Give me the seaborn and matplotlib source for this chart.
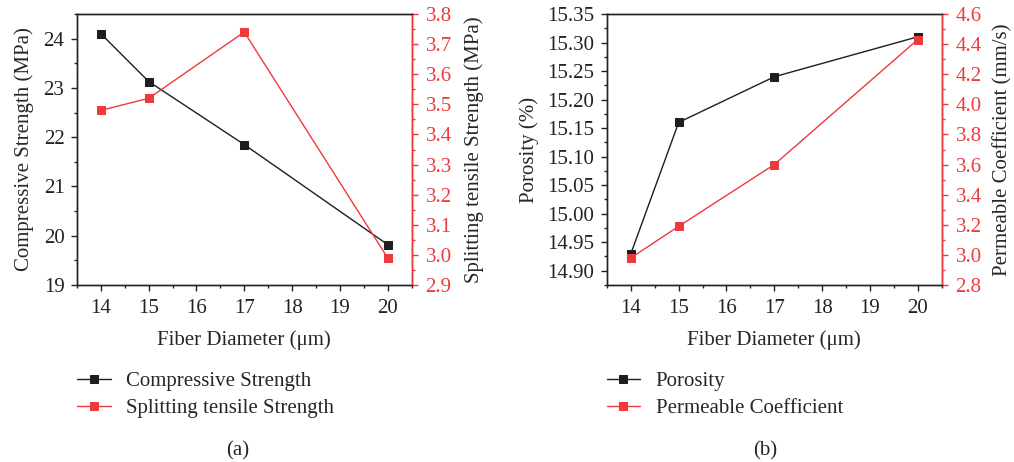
import matplotlib
matplotlib.use("Agg")
import matplotlib.pyplot as plt
import seaborn as sns
from matplotlib.ticker import MultipleLocator, FormatStrFormatter

# data
fiber_diameter = [14, 15, 17, 20]
compressive_strength = [24.10, 23.13, 21.85, 19.82]
splitting_strength = [3.48, 3.52, 3.74, 2.99]
porosity = [14.93, 15.16, 15.24, 15.31]
permeable_coef = [2.98, 3.19, 3.60, 4.43]

RED = "#ee3a3d"
BLACK = "#1e1e1e"
FS = 15

sns.set_theme(style="ticks")
plt.rcParams["font.family"] = ["Liberation Serif", "DejaVu Serif"]
plt.rcParams["font.size"] = FS
plt.rcParams["mathtext.default"] = "regular"


def style_axes(ax, ax2):
    for a in (ax, ax2):
        for s in a.spines.values():
            s.set_linewidth(1.0)
            s.set_color("#222222")
        a.tick_params(which="major", length=4, width=1, direction="out",
                      labelsize=FS, pad=6)
        a.tick_params(which="minor", length=2.5, width=1, direction="out")
    ax2.spines["right"].set_color(RED)
    ax2.tick_params(axis="y", which="both", colors=RED, labelcolor=RED, pad=6)
    ax.tick_params(axis="both", colors="#222222", labelcolor="#222222")
    ax.tick_params(axis="y", pad=5)
    ax.set_xlim(13.5, 20.5)
    ax.xaxis.set_major_locator(MultipleLocator(1))
    ax.xaxis.set_minor_locator(MultipleLocator(0.5))
    ax.set_xlabel("Fiber Diameter (μm)", fontsize=FS, labelpad=9)


def draw_panel(left, y1, y2, y1_label, y2_label, n1, n2, pad1, pad2):
    ax = fig.add_axes([left, 0.3831, 0.330, 0.5866])
    ax2 = ax.twinx()
    sns.lineplot(x=fiber_diameter, y=y1, ax=ax, color=BLACK, marker="s",
                 markersize=5.5, markeredgecolor=BLACK, linewidth=1, label=n1, legend=False)
    sns.lineplot(x=fiber_diameter, y=y2, ax=ax2, color=RED, marker="s",
                 markersize=5.5, markeredgecolor=RED, linewidth=1, label=n2, legend=False)
    ax.set_ylabel(y1_label, fontsize=FS, labelpad=pad1)
    ax2.set_ylabel(y2_label, fontsize=FS, labelpad=pad2)
    style_axes(ax, ax2)
    return ax, ax2


fig = plt.figure(figsize=(10.14, 4.62), dpi=100)

# panel (a)
ax_a, ax_a2 = draw_panel(0.0759, compressive_strength, splitting_strength,
                         "Compressive Strength (MPa)", "Splitting tensile Strength (MPa)",
                         "Compressive Strength", "Splitting tensile Strength", 7, 9)
ax_a.set_ylim(19, 24.5)
ax_a.yaxis.set_major_locator(MultipleLocator(1))
ax_a.yaxis.set_minor_locator(MultipleLocator(0.5))
ax_a2.set_ylim(2.9, 3.8)
ax_a2.yaxis.set_major_locator(MultipleLocator(0.1))
ax_a2.yaxis.set_minor_locator(MultipleLocator(0.05))
ax_a2.yaxis.set_major_formatter(FormatStrFormatter("%.1f"))

# panel (b)
ax_b, ax_b2 = draw_panel(0.5986, porosity, permeable_coef,
                         "Porosity (%)", "Permeable Coefficient (mm/s)",
                         "Porosity", "Permeable Coefficient", 6, 8)
ax_b.set_ylim(14.875, 15.35)
ax_b.yaxis.set_major_locator(MultipleLocator(0.05))
ax_b.yaxis.set_minor_locator(MultipleLocator(0.025))
ax_b.yaxis.set_major_formatter(FormatStrFormatter("%.2f"))
ax_b2.set_ylim(2.8, 4.6)
ax_b2.yaxis.set_major_locator(MultipleLocator(0.2))
ax_b2.yaxis.set_minor_locator(MultipleLocator(0.1))
ax_b2.yaxis.set_major_formatter(FormatStrFormatter("%.1f"))

# legends under each panel
for ax, ax2, xpos, cap, cx in [(ax_a, ax_a2, 0.068, "(a)", 0.234),
                               (ax_b, ax_b2, 0.590, "(b)", 0.755)]:
    h = ax.get_lines()[:1] + ax2.get_lines()[:1]
    labels = [l.get_label() for l in h]
    fig.legend(h, labels, loc="upper left", bbox_to_anchor=(xpos, 0.214),
               frameon=False, fontsize=FS, handlelength=1.6, handletextpad=0.75,
               labelspacing=0.35, borderaxespad=0, bbox_transform=fig.transFigure)
    fig.text(cx, 0.025, cap, ha="center", va="center", fontsize=FS)

fig.savefig("out.png", dpi=100)
